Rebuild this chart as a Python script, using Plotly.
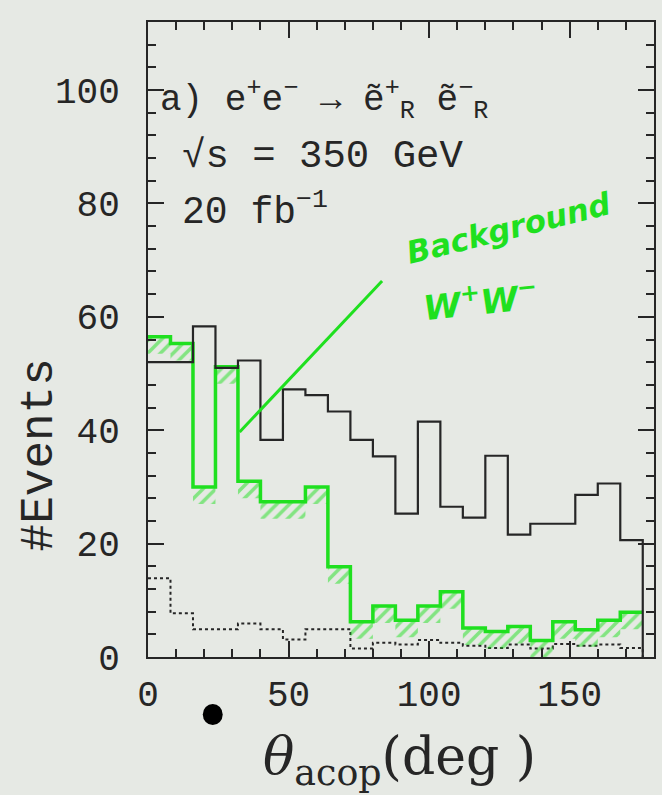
import plotly.graph_objects as go

# ---- data ----
bin_width = 8
n_bins = 22
bin_edges = [i * bin_width for i in range(n_bins + 1)]

signal = [52.0, 52.0, 58.3, 51.0, 52.3, 38.3, 47.2, 46.2, 43.3, 38.3, 35.4,
          25.3, 41.5, 26.5, 24.6, 35.5, 21.6, 23.5, 23.5, 28.6, 30.6, 20.6]
ww_bkg = [56.5, 55.3, 30.0, 51.2, 31.0, 27.4, 27.4, 30.0, 15.9, 6.2, 9.0,
          6.5, 9.0, 11.5, 5.1, 4.5, 5.4, 2.9, 6.2, 4.8, 6.5, 7.9]
other_bkg = [13.9, 7.7, 4.9, 4.9, 5.9, 4.9, 3.1, 4.9, 4.9, 1.5, 2.5,
             2.2, 3.0, 2.5, 2.0, 1.6, 2.2, 1.5, 2.3, 2.0, 2.2, 1.6]

x_ticks = [0, 50, 100, 150]
y_ticks = [0, 20, 40, 60, 80, 100]
x_range = [0, 180]
y_range = [0, 112]

hatch_depth = 3.0

BG = "#e6e9e4"
INK = "#262626"
GREEN = "#1fe01f"


def step(vals):
    xs = bin_edges + [bin_edges[-1]]
    ys = list(vals) + [vals[-1], 0]
    return xs, ys


fig = go.Figure()

# dotted other background
xs, ys = step(other_bkg)
fig.add_trace(go.Scatter(x=xs, y=ys, mode="lines", line_shape="hv",
                         line=dict(color=INK, width=2, dash="dot"),
                         showlegend=False, hoverinfo="skip"))

# hatch band under WW histogram
lower = [max(v - hatch_depth, 0) for v in ww_bkg]
xs, ys = step(lower)
fig.add_trace(go.Scatter(x=xs[:-1], y=ys[:-1], mode="lines", line_shape="hv",
                         line=dict(color="rgba(0,0,0,0)", width=0),
                         showlegend=False, hoverinfo="skip"))
xs, ys = step(ww_bkg)
fig.add_trace(go.Scatter(x=xs[:-1], y=ys[:-1], mode="lines", line_shape="hv",
                         line=dict(color=INK, width=2),
                         fill="tonexty", fillcolor="rgba(0,0,0,0)",
                         fillpattern=dict(shape="/", fgcolor=GREEN, bgcolor="rgba(0,0,0,0)",
                                          size=9, solidity=0.4),
                         showlegend=False, hoverinfo="skip"))
# green overpaint of WW line
fig.add_trace(go.Scatter(x=xs[:-1], y=ys[:-1], mode="lines", line_shape="hv",
                         line=dict(color=GREEN, width=3.5),
                         showlegend=False, hoverinfo="skip"))

# signal histogram
xs, ys = step(signal)
fig.add_trace(go.Scatter(x=xs, y=ys, mode="lines", line_shape="hv",
                         line=dict(color=INK, width=2.2),
                         showlegend=False, hoverinfo="skip"))

PL, PR, PT, PB = 148, 656, 22, 657
W, H = 662, 795


def px(xp):
    return (xp - PL) / (PR - PL)


def py(yp):
    return (PB - yp) / (PB - PT)


mono = "Liberation Mono"
annos = [
    dict(x=px(158), y=py(100), text="a) e<sup>+</sup>e<sup>−</sup> → ẽ<sup>+</sup><sub>R</sub> ẽ<sup>−</sup><sub>R</sub>",
         font=dict(family=mono, size=36, color=INK), xanchor="left", yanchor="middle"),
    dict(x=px(180), y=py(157), text="√s = 350 GeV",
         font=dict(family=mono, size=39, color=INK), xanchor="left", yanchor="middle"),
    dict(x=px(180), y=py(209), text="20 fb<sup>−1</sup>",
         font=dict(family=mono, size=38, color=INK), xanchor="left", yanchor="middle"),
    dict(x=px(510), y=py(228), text="<i><b>Background</b></i>", textangle=-14,
         font=dict(family="DejaVu Sans", size=31, color=GREEN), xanchor="center", yanchor="middle"),
    dict(x=px(482), y=py(300), text="<i><b>W<sup>+</sup>W<sup>−</sup></b></i>", textangle=-6,
         font=dict(family="DejaVu Sans", size=34, color=GREEN), xanchor="center", yanchor="middle"),
    dict(x=px(400), y=py(760), text="<i>θ</i><sub>acop</sub>(deg )",
         font=dict(family="DejaVu Serif", size=52, color=INK), xanchor="center", yanchor="middle"),
    dict(x=px(40), y=py(455), text="#Events", textangle=-90,
         font=dict(family=mono, size=46, color=INK), xanchor="center", yanchor="middle"),
]
for a in annos:
    a.update(xref="paper", yref="paper", showarrow=False)

shapes = [
    dict(type="line", xref="paper", yref="paper", x0=px(383), y0=py(281), x1=px(240), y1=py(432),
         line=dict(color=GREEN, width=3)),
    dict(type="circle", xref="paper", yref="paper", x0=px(203), x1=px(223), y0=py(725), y1=py(704),
         fillcolor="#000000", line=dict(color="#000000", width=0)),
]

fig.update_layout(
    width=W, height=H,
    margin=dict(l=PL, r=W - PR, t=PT, b=H - PB),
    paper_bgcolor=BG, plot_bgcolor=BG,
    annotations=annos, shapes=shapes,
    showlegend=False,
)
fig.update_xaxes(range=x_range, tickvals=x_ticks, ticks="inside", ticklen=16, tickwidth=2,
                 tickcolor=INK, showline=True, linecolor=INK, linewidth=2, mirror="allticks",
                 showgrid=False, zeroline=False, ticklabelstandoff=4,
                 tickfont=dict(family=mono, size=36, color=INK),
                 minor=dict(ticks="inside", ticklen=8, dtick=10, tickcolor=INK, tickwidth=1.5, showgrid=False))
fig.update_yaxes(range=y_range, tickvals=y_ticks, ticks="inside", ticklen=16, tickwidth=2,
                 tickcolor=INK, showline=True, linecolor=INK, linewidth=2, mirror="allticks",
                 showgrid=False, zeroline=False, ticklabelstandoff=19,
                 tickfont=dict(family=mono, size=36, color=INK),
                 minor=dict(ticks="inside", ticklen=8, dtick=4, tickcolor=INK, tickwidth=1.5, showgrid=False))

fig.write_html("out.html")
